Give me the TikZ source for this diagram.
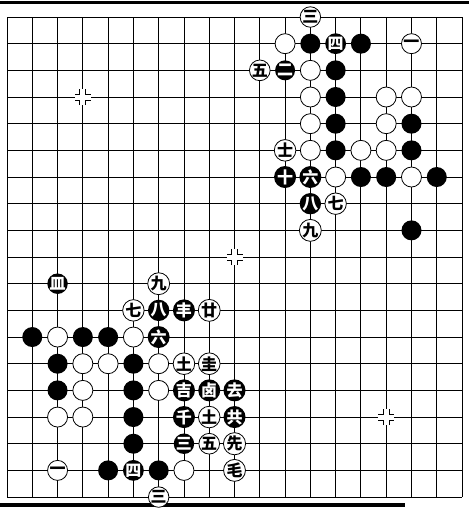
\documentclass[tikz,border=0pt]{standalone}
\usepackage{fontspec}
\newfontfamily\cjk{Noto Sans CJK SC}

\begin{document}
\begin{tikzpicture}[x=1pt, y=-1pt, line width=0.9pt,
	b/.style={circle, fill=black, minimum size=20pt, inner sep=0pt, text=white, font=\cjk\bfseries\fontsize{16}{16}\selectfont},
	w/.style={circle, draw, fill=white, line width=0.8pt, minimum size=20pt, inner sep=0pt, font=\cjk\bfseries\fontsize{16}{16}\selectfont}]
	\useasboundingbox (0,0) rectangle (469,515);
	\fill (0,0.5) rectangle (469,4);
	\fill (0,502.5) rectangle (405,506.5);
	\foreach \i in {0,...,18} {\draw ({7+25.28*\i},17) -- ({7+25.28*\i},497); \draw (7,{17+26.67*\i}) -- (462,{17+26.67*\i});}
	% star points
	\foreach \c in {3,9,15} {
		\coordinate (hoshi\c) at ({7+25.28*\c},{17+26.67*\c});
		\fill[white] ([shift={(-8,-8)}]hoshi\c) rectangle ([shift={(8,8)}]hoshi\c);
		\foreach \sx/\sy in {-1/-1, 1/-1, -1/1, 1/1} {\draw ([shift={(3*\sx,8*\sy)}]hoshi\c) -- ([shift={(3*\sx,3*\sy)}]hoshi\c) -- ([shift={(8*\sx,3*\sy)}]hoshi\c);}
	}
	% black stones
	\foreach \c/\r/\t in {12/1/{}, 13/1/四, 14/1/{}, 11/2/二, 13/2/{}, 13/3/{}, 13/4/{}, 16/4/{}, 13/5/{}, 16/5/{}, 11/6/十, 12/6/六, 14/6/{}, 15/6/{}, 17/6/{}, 12/7/八, 16/8/{},
		2/10/皿, 6/11/八, 7/11/丰, 1/12/{}, 3/12/{}, 4/12/{}, 6/12/六, 2/13/{}, 5/13/{}, 2/14/{}, 5/14/{}, 7/14/吉, 8/14/卤, 9/14/去, 5/15/{}, 7/15/千, 9/15/共, 5/16/{}, 7/16/三, 4/17/{}, 5/17/四, 6/17/{}}
		{\node[b] (b\c-\r) at ({7+25.28*\c},{17+26.67*\r}) {\t};}
	% white stones
	\foreach \c/\r/\t in {12/0/三, 11/1/{}, 16/1/一, 10/2/五, 12/2/{}, 12/3/{}, 15/3/{}, 16/3/{}, 12/4/{}, 15/4/{}, 11/5/士, 12/5/{}, 14/5/{}, 15/5/{}, 13/6/{}, 16/6/{}, 13/7/七, 12/8/九,
		6/10/九, 5/11/七, 8/11/廿, 2/12/{}, 5/12/{}, 3/13/{}, 4/13/{}, 6/13/{}, 7/13/土, 8/13/圭, 3/14/{}, 6/14/{}, 2/15/{}, 3/15/{}, 8/15/土, 8/16/五, 9/16/先, 2/17/一, 7/17/{}, 9/17/毛, 6/18/三}
		{\node[w] (w\c-\r) at ({7+25.28*\c},{17+26.67*\r}) {\t};}
\end{tikzpicture}
\end{document}
